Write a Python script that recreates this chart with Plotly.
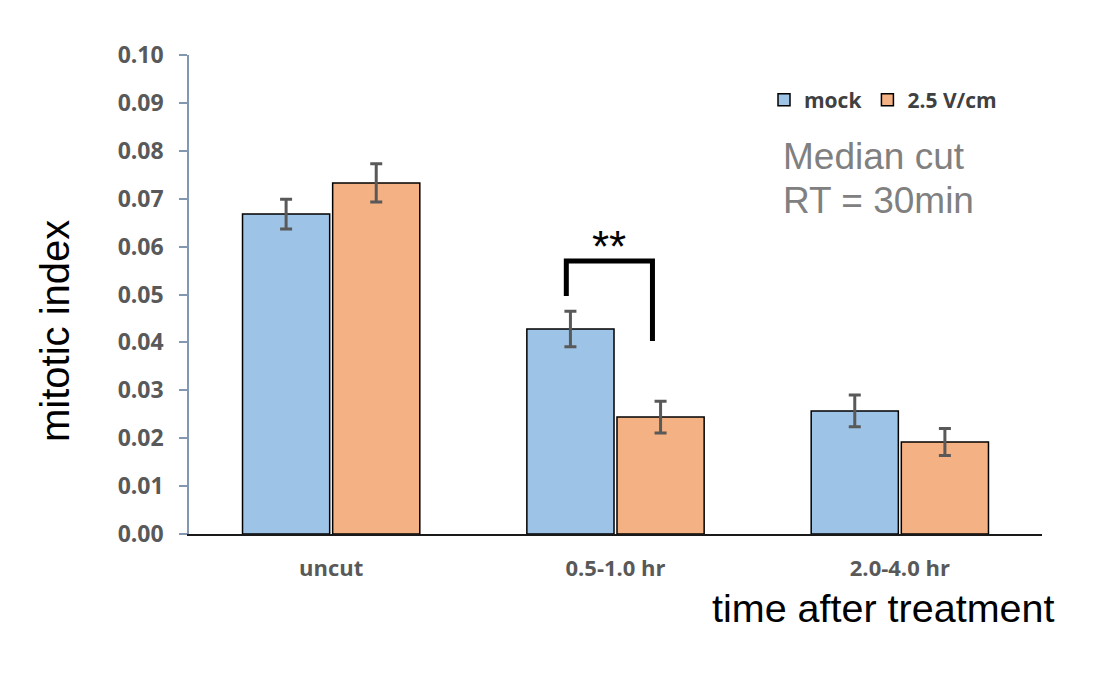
import plotly.graph_objects as go

categories = ["uncut", "0.5-1.0 hr", "2.0-4.0 hr"]
mock_values = [0.0668, 0.0428, 0.0257]
mock_err = [0.0031, 0.0037, 0.0033]
treat_values = [0.0733, 0.0244, 0.0192]
treat_err = [0.0040, 0.0033, 0.0028]
series_names = ["mock", "2.5 V/cm"]
y_ticks = [0.00, 0.01, 0.02, 0.03, 0.04, 0.05, 0.06, 0.07, 0.08, 0.09, 0.10]
y_tick_labels = [f"{v:.2f}" for v in y_ticks]

# significance bracket (category index units / data units)
sig_x_left, sig_x_right = 0.827, 1.130
sig_y_top, sig_y_left, sig_y_right = 0.0570, 0.0497, 0.0403
sig_label = "**"

OFF = 8  # page body margin offset
W, H = 1089, 657
L, T = 189 - OFF, 55 - OFF
R = W - (1042 - OFF)
B = H - (534 - OFF)
pw, ph = W - L - R, H - T - B

def px_x(px):
    return (px - OFF - L) / pw

def px_y(py):
    return (H - B - (py - OFF)) / ph

BLUE = "#9DC3E6"
ORANGE = "#F4B183"
ERR = "#595959"

fig = go.Figure()
fig.add_trace(go.Bar(
    x=categories, y=mock_values, name=series_names[0],
    marker=dict(color=BLUE, line=dict(color="black", width=1.5)),
    error_y=dict(type="data", array=mock_err, color=ERR, thickness=3, width=6),
))
fig.add_trace(go.Bar(
    x=categories, y=treat_values, name=series_names[1],
    marker=dict(color=ORANGE, line=dict(color="black", width=1.5)),
    error_y=dict(type="data", array=treat_err, color=ERR, thickness=3, width=6),
))

fig.update_layout(
    width=W, height=H,
    margin=dict(l=L, r=R, t=T, b=B, pad=0),
    paper_bgcolor="white", plot_bgcolor="white",
    barmode="group", bargap=0.366, bargroupgap=0.033,
    showlegend=True,
    legend=dict(
        orientation="h", x=px_x(764), y=px_y(100), xanchor="left", yanchor="middle",
        font=dict(family="Open Sans", size=21, color="#404040", weight="bold"),
        bgcolor="rgba(0,0,0,0)", itemwidth=30, tracegroupgap=0,
    ),
    xaxis=dict(
        showline=True, linecolor="#1a1a1a", linewidth=2,
        ticks="", showgrid=False, zeroline=False,
        tickfont=dict(family="Open Sans", size=22, color="#595959", weight="bold"),
        ticklabelstandoff=14,
    ),
    yaxis=dict(
        range=[0, 0.1], tickvals=y_ticks, ticktext=y_tick_labels,
        showline=True, linecolor="#8497B0", linewidth=1.5,
        ticks="outside", ticklen=8, tickcolor="#8497B0", tickwidth=1.5,
        showgrid=False, zeroline=False,
        tickfont=dict(family="Open Sans", size=23, color="#595959", weight="bold"),
        ticklabelstandoff=11,
    ),
)

shapes = [
    dict(type="path", xref="x", yref="y",
         path=f"M {sig_x_left},{sig_y_left} L {sig_x_left},{sig_y_top} L {sig_x_right},{sig_y_top} L {sig_x_right},{sig_y_right}",
         line=dict(color="black", width=5), layer="above"),
]
fig.update_layout(shapes=shapes)

annotations = [
    dict(text="mitotic index", x=px_x(55), y=px_y(331), xref="paper", yref="paper",
         textangle=-90, showarrow=False, xanchor="center", yanchor="middle",
         font=dict(family="Liberation Sans", size=40, color="black")),
    dict(text="time after treatment", x=px_x(883), y=px_y(608), xref="paper", yref="paper",
         showarrow=False, xanchor="center", yanchor="middle",
         font=dict(family="Liberation Sans", size=39.5, color="black")),
    dict(text="Median cut", x=px_x(781), y=px_y(156), xref="paper", yref="paper",
         showarrow=False, xanchor="left", yanchor="middle",
         font=dict(family="Liberation Sans", size=37, color="#808080")),
    dict(text="RT = 30min", x=px_x(781), y=px_y(200), xref="paper", yref="paper",
         showarrow=False, xanchor="left", yanchor="middle",
         font=dict(family="Liberation Sans", size=37, color="#808080")),
    dict(text=sig_label, x=(sig_x_left + sig_x_right) / 2, y=0.0600, xref="x", yref="y",
         showarrow=False, xanchor="center", yanchor="middle",
         font=dict(family="Liberation Sans", size=44, color="black")),
]
fig.update_layout(annotations=annotations)

fig.write_html("out.html")
